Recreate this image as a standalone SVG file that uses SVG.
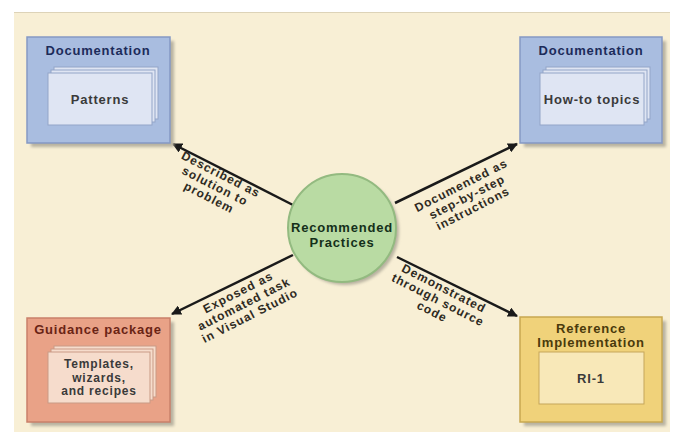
<svg xmlns="http://www.w3.org/2000/svg" width="682" height="432" viewBox="0 0 682 432">
<defs>
<marker id="arr" viewBox="0 0 10 10" refX="9" refY="5" markerWidth="4" markerHeight="4" orient="auto-start-reverse" markerUnits="strokeWidth">
<path d="M0,0 L10,5 L0,10 z" fill="#1a1a1a"/>
</marker>
<filter id="blur" x="-10%" y="-10%" width="130%" height="130%"><feGaussianBlur stdDeviation="1.5"/></filter>
</defs>
<style>
text{font-family:"Liberation Sans",Arial,sans-serif;font-weight:bold;text-anchor:middle}
.t{font-size:13px;letter-spacing:0.8px}
.s{font-size:12px;letter-spacing:0.8px}
.lbl{font-size:12px;letter-spacing:1px;fill:#2e2a22}
.sh{fill:#b8b2a0;filter:url(#blur)}
.blue{fill:#a9bde0;stroke:#8599c4;stroke-width:1.5}
.bpage{fill:#dfe5f3;stroke:#93a5c8;stroke-width:1}
.btxt{fill:#1c2b5a}
.orange{fill:#e9a287;stroke:#c9806a;stroke-width:1.5}
.opage{fill:#f6dccc;stroke:#c99a85;stroke-width:1}
.otxt{fill:#6a2415}
.ptxt{fill:#3a3a3a}
.yellow{fill:#f0d27a;stroke:#c8a850;stroke-width:1.5}
.ypage{fill:#f8e8b8;stroke:#c5a65a;stroke-width:1}
.ytxt{fill:#4a3a0c}
.con{stroke:#1a1a1a;stroke-width:2.5;fill:none;marker-end:url(#arr)}
</style>
<rect x="0" y="0" width="682" height="432" fill="#ffffff"/>
<rect x="14" y="12" width="656" height="420" fill="#f8efd5"/>
<line x1="14" y1="12.5" x2="670" y2="12.5" stroke="#ddd3b8" stroke-width="1"/>

<g id="connectors">
<line class="con" x1="293" y1="205" x2="173" y2="144"/>
<line class="con" x1="395" y1="203" x2="517" y2="144"/>
<line class="con" x1="293" y1="255" x2="172" y2="314"/>
<line class="con" x1="397" y1="257" x2="517" y2="316"/>
<text class="lbl" transform="translate(215,186) rotate(27)"><tspan x="0" y="-9">Described as</tspan><tspan x="0" y="4">solution to</tspan><tspan x="0" y="17">problem</tspan></text>
<text class="lbl" transform="translate(467,197) rotate(-27)"><tspan x="0" y="-9">Documented as</tspan><tspan x="0" y="4">step-by-step</tspan><tspan x="0" y="17">instructions</tspan></text>
<text class="lbl" transform="translate(244,304) rotate(-27)"><tspan x="0" y="-9">Exposed as</tspan><tspan x="0" y="4">automated task</tspan><tspan x="0" y="17">in Visual Studio</tspan></text>
<text class="lbl" transform="translate(438,300) rotate(27)"><tspan x="0" y="-9">Demonstrated</tspan><tspan x="0" y="4">through source</tspan><tspan x="0" y="17">code</tspan></text>
</g>

<g id="center">
<circle cx="345" cy="231" r="54" class="sh"/>
<circle cx="342" cy="228" r="54" fill="#b9dba3" stroke="#93ba80" stroke-width="2"/>
<text class="t" x="342" y="232" fill="#14301a">Recommended</text>
<text class="t" x="342" y="247" fill="#14301a">Practices</text>
</g>

<g id="doc-patterns">
<rect x="31" y="41" width="143" height="106" class="sh"/>
<rect x="27" y="37" width="143" height="106" class="blue"/>
<text class="t btxt" x="98" y="55">Documentation</text>
<rect x="54" y="67" width="104" height="52" class="bpage"/>
<rect x="51" y="70" width="104" height="52" class="bpage"/>
<rect x="48" y="73" width="104" height="52" class="bpage"/>
<text class="t ptxt" x="100" y="104">Patterns</text>
</g>

<g id="doc-howto">
<rect x="524" y="41" width="142" height="106" class="sh"/>
<rect x="520" y="37" width="142" height="106" class="blue"/>
<text class="t btxt" x="591" y="55">Documentation</text>
<rect x="546" y="67" width="104" height="52" class="bpage"/>
<rect x="543" y="70" width="104" height="52" class="bpage"/>
<rect x="540" y="73" width="104" height="52" class="bpage"/>
<text class="t ptxt" x="592" y="104">How-to topics</text>
</g>

<g id="guidance">
<rect x="31" y="322" width="143" height="104" class="sh"/>
<rect x="27" y="318" width="143" height="104" class="orange"/>
<text class="t otxt" x="98" y="334">Guidance package</text>
<rect x="54" y="346" width="102" height="51" class="opage"/>
<rect x="51" y="349" width="102" height="51" class="opage"/>
<rect x="48" y="352" width="102" height="51" class="opage"/>
<text class="s ptxt" x="99" y="368">Templates,</text>
<text class="s ptxt" x="99" y="381.5">wizards,</text>
<text class="s ptxt" x="99" y="395">and recipes</text>
</g>

<g id="ri">
<rect x="524" y="321" width="142" height="105" class="sh"/>
<rect x="520" y="317" width="142" height="105" class="yellow"/>
<text class="t ytxt" x="591" y="333">Reference</text>
<text class="t ytxt" x="591" y="347">Implementation</text>
<rect x="539" y="352" width="105" height="52" class="ypage"/>
<text class="t ptxt" x="591" y="383">RI-1</text>
</g>
</svg>
